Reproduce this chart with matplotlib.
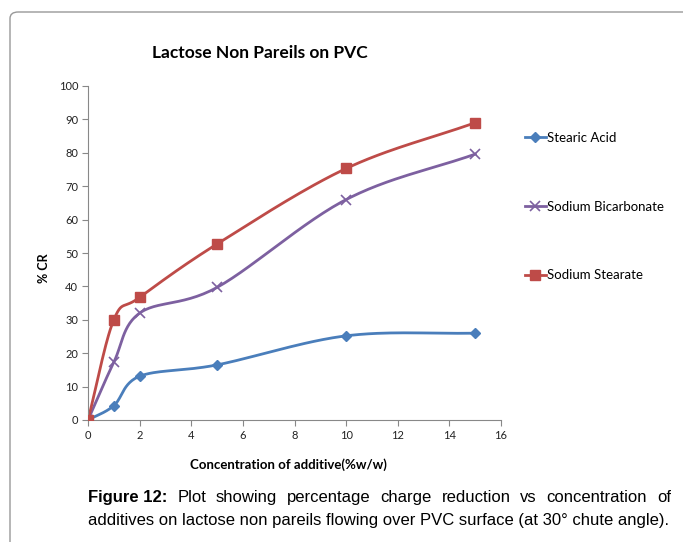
import numpy as np
import matplotlib
matplotlib.use('Agg')
import matplotlib.pyplot as plt
from matplotlib.patches import FancyBboxPatch

plt.rcParams['font.family'] = ['Lato', 'DejaVu Sans']

conc = [0, 1, 2, 5, 10, 15]
stearic_acid = [0, 4.3, 13.1, 16.5, 25.2, 26.0]
sodium_bicarb = [0, 17.3, 32.0, 39.7, 66.0, 79.6]
sodium_stearate = [0, 30.0, 36.7, 52.7, 75.3, 89.0]
names = ['Stearic Acid', 'Sodium Bicarbonate', 'Sodium Stearate']


def smooth(x, y, n=30):
    # Catmull-Rom style curve through the points, like Excel's smoothed line
    x = np.asarray(x, float)
    y = np.asarray(y, float)
    px = np.concatenate([[2*x[0]-x[1]], x, [2*x[-1]-x[-2]]])
    py = np.concatenate([[2*y[0]-y[1]], y, [2*y[-1]-y[-2]]])
    xs, ys = [], []
    t = np.linspace(0, 1, n)
    for i in range(1, len(px)-2):
        for arr, out in ((px, xs), (py, ys)):
            p0, p1, p2, p3 = arr[i-1], arr[i], arr[i+1], arr[i+2]
            m1 = (p2 - p0) / 6.0
            m2 = (p3 - p1) / 6.0
            c = ((1-t)**3*p1 + 3*(1-t)**2*t*(p1+m1) + 3*(1-t)*t**2*(p2-m2) + t**3*p2)
            out.extend(c)
    return np.array(xs), np.array(ys)


fig = plt.figure(figsize=(6.83, 5.42), dpi=100)
ax = fig.add_axes([88/683, 1-420/542, (501-88)/683, (420-86)/542])

styles = [
    (stearic_acid, '#4A7EBB', 'D', 5),
    (sodium_bicarb, '#7D60A0', 'x', 7),
    (sodium_stearate, '#BE4B48', 's', 7),
]
for (vals, col, mk, ms), name in zip(styles, names):
    sx, sy = smooth(conc, vals)
    mew = 1.2 if mk == 'x' else 1
    ax.plot(sx, sy, color=col, lw=2, zorder=2)
    ax.plot(conc, vals, linestyle='none', marker=mk, ms=ms, color=col,
            mec=col, mew=mew, zorder=3)
    ax.plot([], [], color=col, lw=2, marker=mk, ms=ms, mew=mew, label=name)

ax.set_xlim(0, 16)
ax.set_ylim(0, 100)
ax.set_xticks(range(0, 17, 2))
ax.set_yticks(range(0, 101, 10))
ax.tick_params(labelsize=8, length=4, width=0.8, color='#888888', pad=3,
               labelcolor='#222222')
for s in ['top', 'right']:
    ax.spines[s].set_visible(False)
for s in ['left', 'bottom']:
    ax.spines[s].set_color('#888888')

ax.legend(loc='upper left', bbox_to_anchor=(513/683, 1-120/542),
          bbox_transform=fig.transFigure, frameon=False, fontsize=9.5,
          labelspacing=4.3, handlelength=1.6, handletextpad=0.1)

fig.text(260/683, 1-53/542, 'Lactose Non Pareils on PVC', ha='center', va='center',
         fontsize=12.5, fontweight='bold')
fig.text(44/683, 1-268/542, '% CR', ha='center', va='center', rotation=90,
         fontsize=9, fontweight='bold')
fig.text(288/683, 1-465/542, 'Concentration of additive(%w/w)', ha='center', va='center',
         fontsize=9.5, fontweight='bold')

# rounded frame around the chart
frame = FancyBboxPatch((10/683, -0.2), 1.2, 1 - 12/542 + 0.2,
                       boxstyle='round,pad=0,rounding_size=0.012',
                       transform=fig.transFigure, fill=False,
                       edgecolor='#999999', lw=1)
fig.patches.append(frame)

# justified caption
cap_font = ['Liberation Sans', 'DejaVu Sans']
renderer = fig.canvas.get_renderer()
line1 = [('Figure 12:', 'bold')] + [(w, 'normal') for w in
         'Plot showing percentage charge reduction vs concentration of'.split()]
left, right = 88, 671
y1 = 1 - 502/542
texts = []
for w, wt in line1:
    t = fig.text(0, y1, w, fontsize=12, fontweight=wt, family=cap_font,
                 ha='left', va='baseline')
    texts.append(t)
widths = [t.get_window_extent(renderer).width for t in texts]
gap = (right - left - sum(widths)) / (len(texts) - 1)
xpos = left
for t, w in zip(texts, widths):
    t.set_x(xpos/683)
    xpos += w + gap
fig.text(left/683, 1 - 525/542,
         'additives on lactose non pareils flowing over PVC surface (at 30\u00b0 chute angle).',
         fontsize=12, family=cap_font, ha='left', va='baseline')

fig.savefig('out.png', dpi=100)
